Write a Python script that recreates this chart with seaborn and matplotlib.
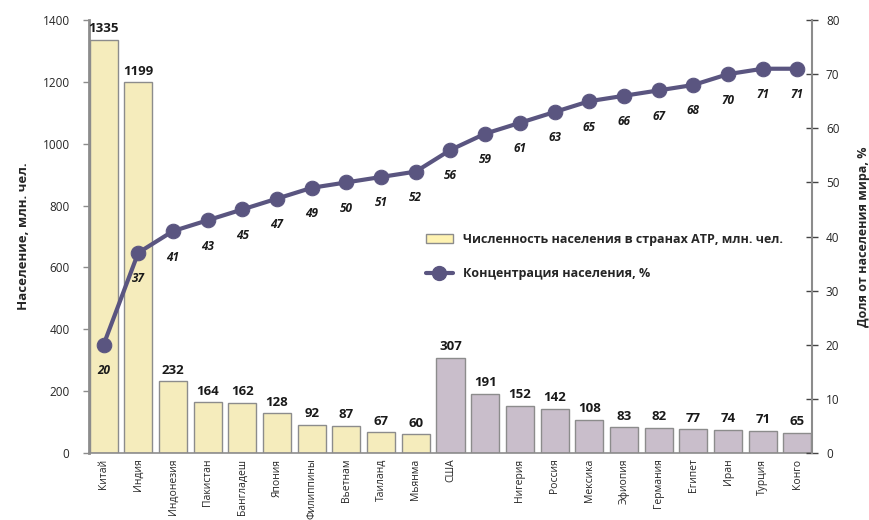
import numpy as np
import pandas as pd
import seaborn as sns
import matplotlib.pyplot as plt
from matplotlib.patches import Patch
from matplotlib.lines import Line2D

# data
countries = ["Китай", "Индия", "Индонезия", "Пакистан", "Бангладеш", "Япония",
             "Филиппины", "Вьетнам", "Таиланд", "Мьянма", "США", "Бразилия",
             "Нигерия", "Россия", "Мексика", "Эфиопия", "Германия", "Египет",
             "Иран", "Турция", "Конго"]
tick_labels = ["Китай", "Индия", "Индонезия", "Пакистан", "Бангладеш", "Япония",
               "Филиппины", "Вьетнам", "Таиланд", "Мьянма", "США", "",
               "Нигерия", "Россия", "Мексика", "Эфиопия", "Германия", "Египет",
               "Иран", "Турция", "Конго"]
population = [1335, 1199, 232, 164, 162, 128, 92, 87, 67, 60, 307, 191,
              152, 142, 108, 83, 82, 77, 74, 71, 65]
region = ["АТР"] * 10 + ["other"] * 11
share = [20, 37, 41, 43, 45, 47, 49, 50, 51, 52, 56, 59, 61, 63, 65, 66,
         67, 68, 70, 71, 71]

df = pd.DataFrame({"country": countries, "pop": population, "region": region})

sns.set_style("white")
plt.rcParams['font.family'] = ['Open Sans', 'DejaVu Sans']

yellow = "#fff3b2"
purple = "#cbbccd"
line_col = "#5a5580"
edge = "#8c8c8c"

fig = plt.figure(figsize=(8.69, 5.2), dpi=100)
ax = fig.add_axes([0.1024, 0.1288, 0.832, 0.8327])

sns.barplot(data=df, x="country", y="pop", hue="region",
            palette={"АТР": yellow, "other": purple}, dodge=False,
            width=0.81, edgecolor=edge, linewidth=1, legend=False, ax=ax)

for i, v in enumerate(population):
    ax.text(i, v + 15, str(v), ha="center", va="bottom",
            fontsize=9.5, fontweight="bold", color="#1a1a1a")

ax.set_ylim(0, 1400)
ax.set_xlim(-0.42, len(countries) - 0.58)
ax.set_yticks(range(0, 1401, 200))
ax.set_xticks(range(len(countries)))
ax.set_xticklabels(tick_labels, rotation=90, fontsize=7.5)
ax.tick_params(axis="x", length=0, pad=4)
ax.tick_params(axis="y", length=4, width=1, color=edge, labelsize=8.5, pad=10, left=True)
ax.set_xlabel("")
ax.set_ylabel("Население, млн. чел.", fontsize=9.5, fontweight="bold")
ax.yaxis.set_label_coords(-0.082, 0.5)
for s in ["top", "right"]:
    ax.spines[s].set_visible(False)
ax.spines["left"].set_color(edge)
ax.spines["left"].set_linewidth(2)
ax.spines["bottom"].set_color(edge)
ax.spines["bottom"].set_linewidth(1.2)

ax2 = ax.twinx()
sns.lineplot(x=np.arange(len(share)), y=share, ax=ax2, color=line_col,
             linewidth=3, marker="o", markersize=10.5, markeredgecolor=line_col)
for i, v in enumerate(share):
    ax2.annotate(str(v), (i, v), xytext=(0, -14), textcoords="offset points",
                 ha="center", va="top", fontsize=8.5, fontweight="bold",
                 fontstyle="italic", color="#1a1a1a")
ax2.set_ylim(0, 80)
ax2.set_yticks(range(0, 81, 10))
ax2.tick_params(axis="y", direction="inout", length=8, width=1, color="#444444",
                labelsize=8.5, pad=6, right=True)
ax2.set_ylabel("Доля от населения мира, %", fontsize=9, fontweight="bold",
               rotation=90)
ax2.yaxis.set_label_coords(1.062, 0.5)
for s in ["top", "left", "bottom"]:
    ax2.spines[s].set_visible(False)
ax2.spines["right"].set_color(edge)
ax2.spines["right"].set_linewidth(1.5)

handles = [Patch(facecolor=yellow, edgecolor=edge),
           Line2D([0], [0], color=line_col, linewidth=3, marker="o", markersize=10)]
leg = ax2.legend(handles, ["Численность населения в странах АТР, млн. чел.",
                           "Концентрация населения, %"],
                 loc="upper left", bbox_to_anchor=(0.45, 0.535), frameon=False,
                 prop={"weight": "bold", "size": 9}, labelspacing=1.75,
                 handlelength=2.2)

fig.savefig("out.png", dpi=100)
